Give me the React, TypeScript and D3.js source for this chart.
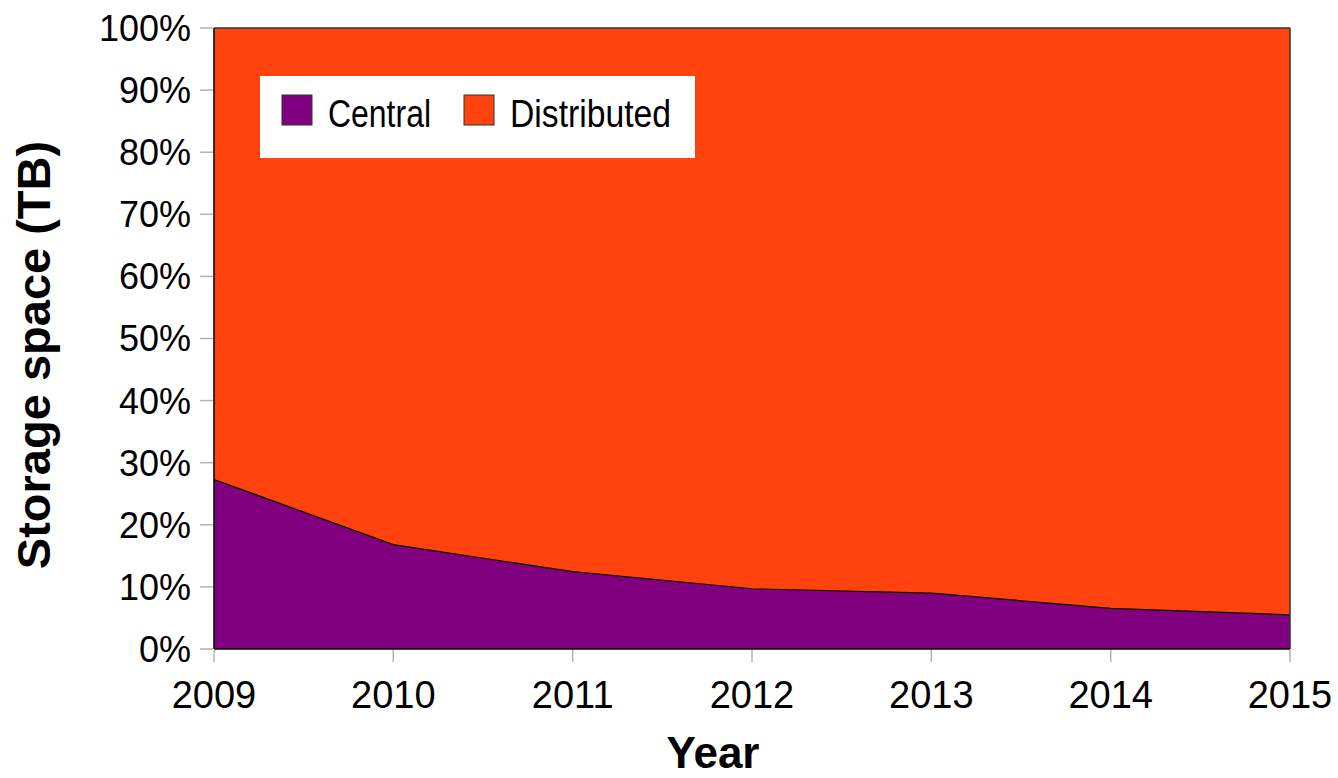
import React from "react";
import * as d3 from "d3";

const years = [2009, 2010, 2011, 2012, 2013, 2014, 2015];
const centralShare = [27.3, 16.8, 12.45, 9.7, 9.0, 6.55, 5.5];
const distributedShare = centralShare.map((c) => 100 - c);
const yTicks = [0, 10, 20, 30, 40, 50, 60, 70, 80, 90, 100];
const seriesNames = ["Central", "Distributed"];
const seriesColors = ["#800080", "#ff420e"];

const W = 1338;
const H = 778;
const left = 214;
const right = 1290;
const top = 28;
const bottom = 649;

export default function App() {
  const x = d3.scalePoint<number>().domain(years).range([left, right]);
  const y = d3.scaleLinear().domain([0, 100]).range([bottom, top]);

  const rows = years.map((yr, i) => ({ year: yr, Central: centralShare[i], Distributed: distributedShare[i] }));
  const stack = d3.stack<any>().keys(seriesNames);
  const layers = stack(rows);

  const area = d3
    .area<any>()
    .x((d) => x(d.data.year) as number)
    .y0((d) => y(d[0]))
    .y1((d) => y(d[1]));

  const line = d3
    .line<number>()
    .x((_, i) => x(years[i]) as number)
    .y((d) => y(d));

  const font = "'Liberation Sans', Arial, sans-serif";

  return (
    <svg width={W} height={H} style={{ position: "absolute", left: 0, top: 0 }}>
      <rect x={0} y={0} width={W} height={H} fill="#fff" />
      {layers.map((layer, i) => (
        <path key={i} d={area(layer) || ""} fill={seriesColors[i]} />
      ))}
      <path d={line(centralShare) || ""} fill="none" stroke="#000" strokeWidth={1.2} />
      {/* frame */}
      <line x1={left} x2={right} y1={top} y2={top} stroke="#333" strokeWidth={1.5} />
      <line x1={right} x2={right} y1={top} y2={bottom} stroke="#333" strokeWidth={1.5} />
      <line x1={left} x2={left} y1={top} y2={bottom} stroke="#000" strokeWidth={1.5} />
      <line x1={left} x2={right} y1={bottom} y2={bottom} stroke="#000" strokeWidth={1.5} />
      {/* y ticks */}
      {yTicks.map((t) => (
        <g key={t}>
          <line x1={200} x2={left - 1} y1={y(t)} y2={y(t)} stroke="#b3b3b3" strokeWidth={1.5} />
          <text
            x={191}
            y={y(t)}
            dy="0.36em"
            textAnchor="end"
            fontFamily={font}
            fontSize={36}
            fill="#000"
          >
            {t}%
          </text>
        </g>
      ))}
      {/* x ticks */}
      {years.map((yr) => (
        <g key={yr}>
          <line x1={x(yr)} x2={x(yr)} y1={bottom + 1} y2={662} stroke="#b3b3b3" strokeWidth={1.5} />
          <text x={x(yr)} y={708} textAnchor="middle" fontFamily={font} fontSize={38} fill="#000">
            {yr}
          </text>
        </g>
      ))}
      {/* axis titles */}
      <text x={713} y={768} textAnchor="middle" fontFamily={font} fontSize={44} fontWeight="bold" fill="#000">
        Year
      </text>
      <text
        transform={`translate(50,355) rotate(-90)`}
        textAnchor="middle"
        fontFamily={font}
        fontSize={47}
        fontWeight="bold"
        fill="#000"
      >
        Storage space (TB)
      </text>
      {/* legend */}
      <rect x={260} y={76} width={435} height={82} fill="#fff" />
      {seriesNames.map((name, i) => {
        const sx = i === 0 ? 282 : 464;
        return (
          <g key={name}>
            <rect x={sx} y={95} width={30} height={30} fill={seriesColors[i]} stroke="#333" strokeWidth={1} />
            <text
              x={sx + 46}
              y={127}
              fontFamily="'Liberation Sans Narrow', 'Liberation Sans', Arial, sans-serif"
              fontSize={38}
              fill="#000"
              textLength={i === 0 ? 103 : 161}
              lengthAdjust="spacingAndGlyphs"
            >
              {name}
            </text>
          </g>
        );
      })}
    </svg>
  );
}
